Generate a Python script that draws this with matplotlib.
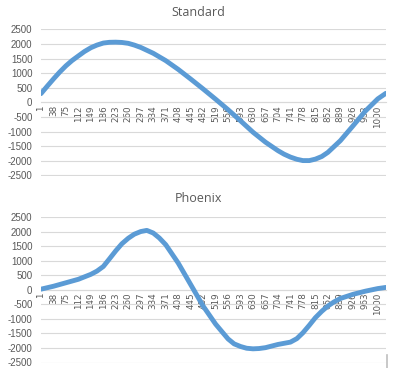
import matplotlib
matplotlib.use("Agg")
import matplotlib.pyplot as plt
from matplotlib.lines import Line2D

plt.rcParams["axes.unicode_minus"] = False

std_x = [1, 20, 38, 56, 75, 93, 112, 130, 149, 167, 186, 204, 223, 241, 260, 278, 297, 334, 371,
         408, 445, 482, 519, 556, 593, 630, 667, 704, 722, 741, 760, 778, 797, 815, 834, 852,
         889, 926, 963, 1000, 1024]
std_y = [300, 560, 800, 1030, 1250, 1430, 1590, 1740, 1870, 1960, 2030, 2055, 2060, 2050, 2020,
         1960, 1880, 1680, 1430, 1130, 800, 460, 110, -250, -630, -1020, -1360, -1650, -1770,
         -1870, -1945, -1990, -1990, -1940, -1850, -1710, -1310, -810, -300, 120, 310]

phx_x = [1, 38, 75, 112, 149, 167, 186, 204, 223, 241, 260, 278, 297, 315, 334, 352, 371, 408,
         445, 482, 519, 556, 574, 593, 611, 630, 648, 667, 704, 741, 760, 778, 797, 815, 834,
         852, 870, 889, 926, 963, 1000, 1024]
phx_y = [20, 120, 240, 360, 530, 640, 800, 1060, 1340, 1580, 1770, 1910, 2000, 2040, 1950, 1780,
         1550, 920, 180, -560, -1180, -1690, -1860, -1950, -2010, -2030, -2020, -1990, -1880,
         -1800, -1680, -1480, -1220, -960, -740, -560, -420, -300, -160, -50, 40, 80]

x_ticks = list(range(1, 1001, 37))
y_ticks = [2500, 2000, 1500, 1000, 500, 0, -500, -1000, -1500, -2000, -2500]

titles = ["Standard", "Phoenix"]

BLUE = "#5B9BD5"
GRID = "#d9d9d9"
TXT = "#595959"

W, H = 396, 368
fig = plt.figure(figsize=(W / 100, H / 100), dpi=100)
fig.patch.set_facecolor("white")

# axes boxes in pixel coords: (left, top, right, bottom)
boxes = [(40.8, 29.3, 386, 175.5), (40.8, 217, 386, 362.5)]
title_y = [12, 199]

for (l, t, r, b), ty, title, xs, ys in zip(boxes, title_y, titles, [std_x, phx_x], [std_y, phx_y]):
    ax = fig.add_axes([l / W, 1 - b / H, (r - l) / W, (b - t) / H])
    # category axis crosses at zero, like the spreadsheet chart
    ax.spines["bottom"].set_position(("data", 0))
    ax.spines["bottom"].set_color(GRID)
    ax.spines["bottom"].set_linewidth(0.8)
    for s in ["top", "right", "left"]:
        ax.spines[s].set_visible(False)
    ax.set_xlim(0.5, 1024.5)
    ax.set_ylim(-2500, 2500)
    ax.set_yticks(y_ticks)
    ax.set_xticks(x_ticks)
    ax.set_xticklabels([str(v) for v in x_ticks], rotation=90,
                       family=["Liberation Sans Narrow", "DejaVu Sans"], fontsize=6.3, color=TXT)
    ax.set_yticklabels([str(v) for v in y_ticks], family=["Liberation Sans", "DejaVu Sans"],
                       fontsize=7, color=TXT)
    ax.tick_params(axis="both", length=0)
    ax.tick_params(axis="x", pad=2)
    ax.tick_params(axis="y", pad=6)
    ax.grid(axis="y", color=GRID, lw=0.8)
    ax.set_axisbelow(True)
    ax.plot(xs, ys, color=BLUE, lw=3.5, solid_capstyle="round", solid_joinstyle="round", zorder=3)
    fig.text(198 / W, 1 - ty / H, title, ha="center", va="center",
             family=["Open Sans", "DejaVu Sans"], fontsize=9, color=TXT)

# edge of the chart frame at the bottom right
fig.add_artist(Line2D([387 / W, 387 / W], [0, 13 / H], color="#bfbfbf", lw=1.2))

fig.savefig("out.png", dpi=100)
